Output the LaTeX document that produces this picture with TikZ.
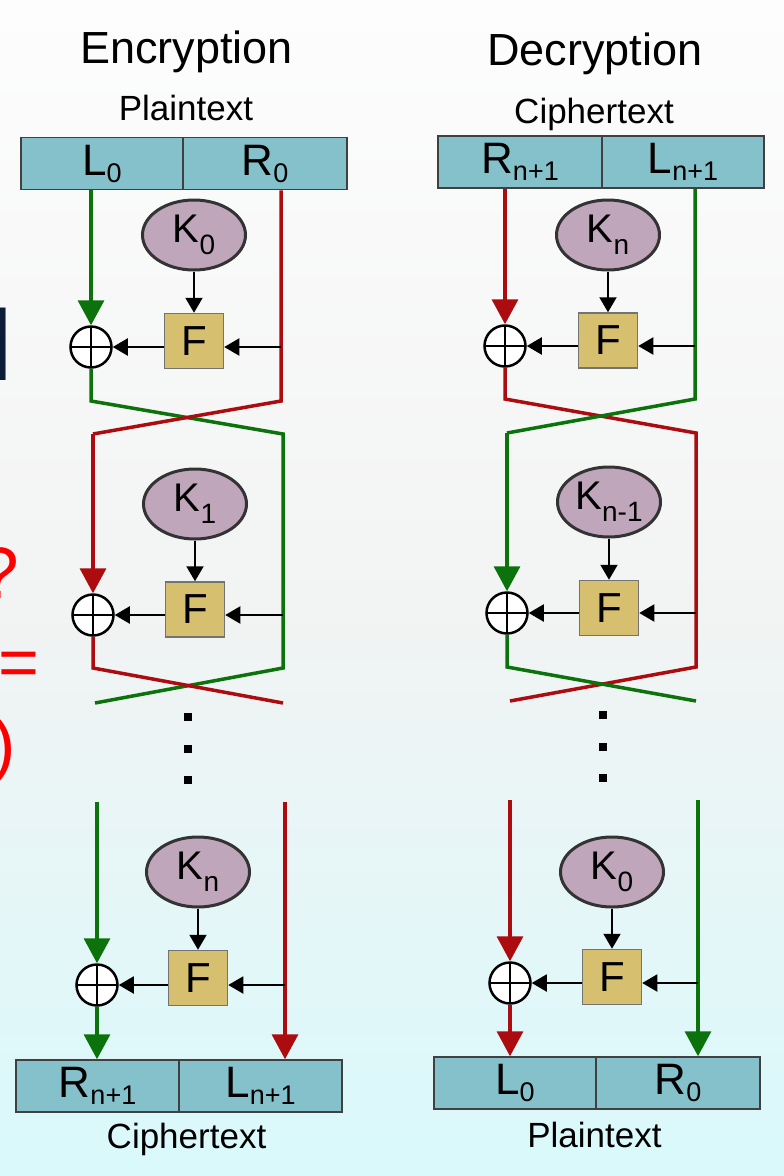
\documentclass[tikz,border=0pt]{standalone}
\usepackage{fontspec}
\setmainfont{Liberation Sans}
\usetikzlibrary{arrows.meta,shapes.geometric,calc}
\definecolor{boxfill}{RGB}{132,193,203}
\definecolor{kfill}{RGB}{192,166,187}
\definecolor{ffill}{RGB}{214,192,112}
\definecolor{lgreen}{RGB}{12,115,12}
\definecolor{lred}{RGB}{172,12,16}
\definecolor{navy}{RGB}{10,28,55}
\definecolor{fragred}{RGB}{255,0,0}
\definecolor{bgtop}{RGB}{253,253,253}
\definecolor{bgmid}{RGB}{242,243,243}
\definecolor{bgbot}{RGB}{217,249,251}
\pgfdeclareverticalshading{bgsh}{100bp}{color(0bp)=(bgbot); color(25bp)=(bgbot); color(49bp)=(bgmid); color(75bp)=(bgtop); color(100bp)=(bgtop)}
\newcommand{\fs}[1]{\fontsize{#1}{#1}\selectfont}
\newcommand{\cell}[2]{#1\raisebox{-7pt}{\fs{27}#2}}
\newcommand{\kl}[2]{#1\raisebox{-12pt}{\fs{28}#2}}
\begin{document}
\begin{tikzpicture}[x=1pt,y=-1pt,
  cellbox/.style={draw=black!75, line width=1.5pt, fill=boxfill, minimum height=52pt, inner sep=0pt, font=\fs{44}},
  kell/.style={ellipse, draw=black!80, line width=3pt, fill=kfill, minimum width=103pt, minimum height=70pt, inner sep=0pt, font=\fs{40}},
  fbox/.style={draw=black!55, line width=1.5pt, fill=ffill, minimum width=59pt, minimum height=55pt, inner sep=0pt, font=\fs{42}},
  xorc/.style={circle, draw=black, line width=2.5pt, fill=white, minimum size=41pt, inner sep=0pt,
     path picture={\draw[line width=2pt] (path picture bounding box.north) -- (path picture bounding box.south)
                    (path picture bounding box.west) -- (path picture bounding box.east);}},
  gline/.style={draw=lgreen, line width=3.5pt},
  rline/.style={draw=lred, line width=3.5pt},
  bigtip/.style={-{Triangle[length=25pt,width=26pt]}},
  blk/.style={draw=black, line width=2pt, -{Triangle[length=15pt,width=17pt]}},
  dotsq/.style={fill=black, minimum size=8pt, inner sep=0pt},
  title/.style={font=\fs{45}, anchor=base, inner sep=0pt},
  caption/.style={font=\fs{35}, anchor=base, inner sep=0pt}
]
\useasboundingbox (0,0) rectangle (784,1176);
\shade[shading=bgsh] (0,0) rectangle (784,1176);

% cut-off fragments at the left edge
\begin{scope}
\clip (0,0) rectangle (784,1176);
\node[font=\fs{100}, text=navy, anchor=base east, inner sep=0pt] (fragA) at (12.7,380) {l};
\node[font=\fs{73}, text=fragred, anchor=base east, inner sep=0pt] (fragB) at (19.5,598) {?};
\node[font=\fs{70}, text=fragred, anchor=base west, inner sep=0pt] (fragC) at (-2,686) {=};
\node[font=\fs{70}, text=fragred, anchor=base east, inner sep=0pt] (fragD) at (16,768) {)};
\end{scope}

% ================= Encryption =================
\node[title] (encT) at (186.5,63) {Encryption};
\node[caption] (encP) at (186,120) {Plaintext};
\node[cellbox, minimum width=162pt] (eL) at (102,163.5) {\cell{L}{0}};
\node[cellbox, minimum width=164pt] (eR) at (265,163.5) {\cell{R}{0}};

% round 1
\node[kell] (k1) at (194,235) {\kl{K}{0}};
\node[fbox] (f1) at (194,341) {F};
\node[xorc] (x1) at (91,347) {};
\coordinate (eg1) at (91,401);
\coordinate (eg2) at (283,434);
\coordinate (eg3) at (283,668);
\coordinate (eg4) at (95,703);
\coordinate (er1) at (281,401);
\coordinate (er2) at (93,434);
\coordinate (er3) at (93,668);
\coordinate (er4) at (283,703);

% round 2
\node[kell] (k2) at (195,504) {\kl{K}{1}};
\node[fbox] (f2) at (195,609.5) {F};
\node[xorc] (x2) at (93,615) {};

\draw[gline, bigtip] (eL.south -| x1) -- (x1.north);
\draw[gline] (x1.south) -- (eg1) -- (eg2) -- (eg3) -- (eg4);
\draw[rline] (eR.south -| er1) -- (er1) -- (er2);
\draw[rline, bigtip] (er2) -- (x2.north);
\draw[rline] (x2.south) -- (er3) -- (er4);

\draw[blk] (k1) -- (f1);
\draw[blk] (er1 |- x1) -- (f1.east |- x1);
\draw[blk] (f1.west |- x1) -- (x1.east);
\draw[blk] (k2) -- (f2);
\draw[blk] (eg2 |- x2) -- (f2.east |- x2);
\draw[blk] (f2.west |- x2) -- (x2.east);

% dots
\node[dotsq] (ed1) at (188,717) {};
\node[dotsq] (ed2) at (188,749) {};
\node[dotsq] (ed3) at (188,780) {};

% round n
\node[kell] (k3) at (198,872) {\kl{K}{n}};
\node[fbox] (f3) at (198,978) {F};
\node[xorc] (x3) at (97,985) {};
\node[cellbox, minimum width=163pt] (eBL) at (97.5,1086) {\cell{R}{n+1}};
\node[cellbox, minimum width=163pt] (eBR) at (260.5,1086) {\cell{L}{n+1}};
\node[caption] (encC) at (186.5,1148) {Ciphertext};
\coordinate (eg5) at (97,802);
\coordinate (er5) at (285,802);
\draw[gline, bigtip] (eg5) -- (x3.north);
\draw[gline, bigtip] (x3.south) -- (eBL.north -| x3);
\draw[rline, bigtip] (er5) -- (eBR.north -| er5);
\draw[blk] (k3) -- (f3);
\draw[blk] (er5 |- x3) -- (f3.east |- x3);
\draw[blk] (f3.west |- x3) -- (x3.east);

% ================= Decryption =================
\node[title] (decT) at (595,65) {Decryption};
\node[caption] (decC) at (594,123) {Ciphertext};
\node[cellbox, minimum width=164pt] (dL) at (520,162) {\cell{R}{n+1}};
\node[cellbox, minimum width=162pt] (dR) at (683,162) {\cell{L}{n+1}};

% round 1
\node[kell] (kd1) at (608,235) {\kl{K}{n}};
\node[fbox] (fd1) at (608,340.5) {F};
\node[xorc] (xd1) at (505,346) {};
\coordinate (dr1) at (505,399);
\coordinate (dr2) at (696,433);
\coordinate (dr3) at (696,667);
\coordinate (dr4) at (510,701);
\coordinate (dg1) at (695,399);
\coordinate (dg2) at (507,433);
\coordinate (dg3) at (507,667);
\coordinate (dg4) at (696,701);

% round 2
\node[kell] (kd2) at (609,502) {\kl{K}{n-1}};
\node[fbox] (fd2) at (609,608) {F};
\node[xorc] (xd2) at (507,613) {};

\draw[rline, bigtip] (dL.south -| xd1) -- (xd1.north);
\draw[rline] (xd1.south) -- (dr1) -- (dr2) -- (dr3) -- (dr4);
\draw[gline] (dR.south -| dg1) -- (dg1) -- (dg2);
\draw[gline, bigtip] (dg2) -- (xd2.north);
\draw[gline] (xd2.south) -- (dg3) -- (dg4);

\draw[blk] (kd1) -- (fd1);
\draw[blk] (dg1 |- xd1) -- (fd1.east |- xd1);
\draw[blk] (fd1.west |- xd1) -- (xd1.east);
\draw[blk] (kd2) -- (fd2);
\draw[blk] (dr2 |- xd2) -- (fd2.east |- xd2);
\draw[blk] (fd2.west |- xd2) -- (xd2.east);

% dots
\node[dotsq] (dd1) at (603,715) {};
\node[dotsq] (dd2) at (603,747) {};
\node[dotsq] (dd3) at (603,778) {};

% round n
\node[kell] (kd3) at (612,872) {\kl{K}{0}};
\node[fbox] (fd3) at (612,977) {F};
\node[xorc] (xd3) at (510,983) {};
\node[cellbox, minimum width=162pt] (dBL) at (515,1083) {\cell{L}{0}};
\node[cellbox, minimum width=164pt] (dBR) at (678,1083) {\cell{R}{0}};
\node[caption] (decP) at (594.5,1147) {Plaintext};
\coordinate (dr5) at (510,800);
\coordinate (dg5) at (698,800);
\draw[rline, bigtip] (dr5) -- (xd3.north);
\draw[rline, bigtip] (xd3.south) -- (dBL.north -| xd3);
\draw[gline, bigtip] (dg5) -- (dBR.north -| dg5);
\draw[blk] (kd3) -- (fd3);
\draw[blk] (dg5 |- xd3) -- (fd3.east |- xd3);
\draw[blk] (fd3.west |- xd3) -- (xd3.east);
\end{tikzpicture}
\end{document}
